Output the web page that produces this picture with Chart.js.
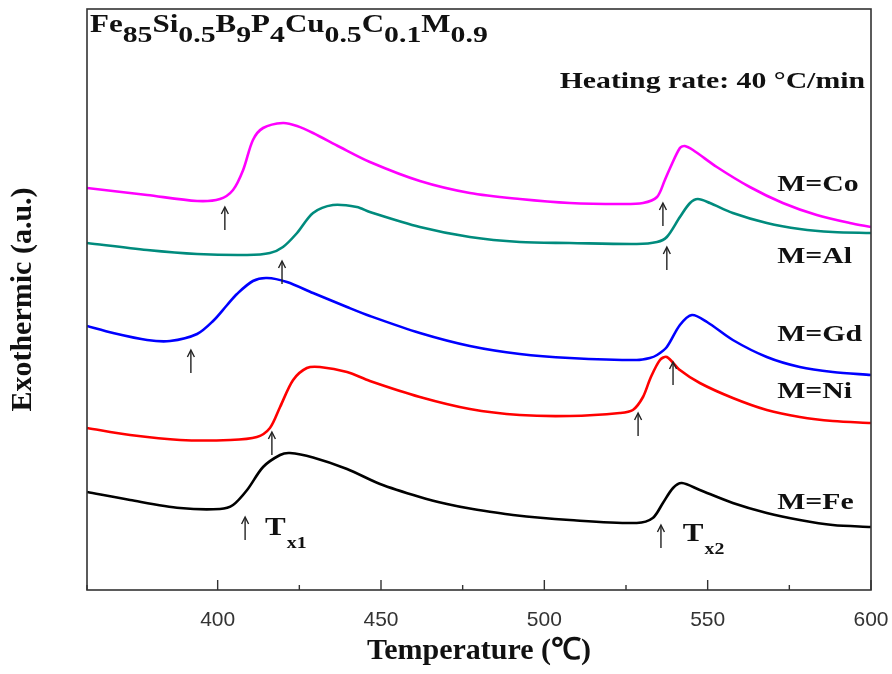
<!DOCTYPE html>
<html><head><meta charset="utf-8">
<script src="https://cdn.jsdelivr.net/npm/chart.js@4.4.0/dist/chart.umd.min.js"></script>
<style>html,body{margin:0;padding:0;background:#fff;}#wrap{width:892px;height:674px;}</style>
</head><body><div id="wrap"><canvas id="c" width="892" height="674"></canvas></div>
<script>
// ---- data (temperature in °C, signal in arbitrary units) ----
const seriesNames = ['M=Co','M=Al','M=Gd','M=Ni','M=Fe'];
const xTickValues = [400,450,500,550,600];

const coTemp = [360,378.4,393.7,400.7,404.7,407.8,410.8,413.9,420,424.3,429.2,437.4,446.6,461.9,477.2,492.5,507.8,523.1,530.2,534.5,536.9,538.5,541.5,543,545.5,552.8,562.9,573,583.4,593.5,600];
const coSignal = [402,395,389,391,400,420,450,462,467,464,457,443,428,409,397,391,387,386,387,393,410,422,442,444,440,423,403,387,375,367,363];

const alTemp = [360,378.4,393.7,409,416,420,424.3,429.2,435.3,442.6,446.6,461.9,477.2,492.5,507.8,528.3,534.5,537.5,541.5,544.6,547,550.7,557.7,568.1,578.2,588.3,600];
const alSignal = [347,340,336,335,337,343,357,377,385,383,378,363,353,348,347,346,348,353,373,387,391,387,377,367,361,358,357];

const gdTemp = [360,368,378.4,385.4,393.7,398.6,402.9,405.9,410.8,415.1,421.2,429.2,439.6,446.6,461.9,477.2,492.5,507.8,528.3,532.3,534.5,537.5,541.5,545.2,549.8,557.7,568.1,578.2,588.3,600];
const gdSignal = [264,257,250,249,256,269,285,296,309,312,308,297,283,274,257,244,236,232,230,232,235,243,265,275,268,250,233,223,218,215];

const niTemp = [360,373.2,388.5,403.8,412,416,419.1,423.1,427.3,431.3,439.6,446.6,461.9,477.2,492.5,507.8,523.1,527.1,530.2,532.5,535.4,537.5,541.5,547.6,557.7,568.1,578.2,588.3,600];
const niSignal = [162,155,150,150,153,162,183,210,222,223,218,209,193,181,175,174,177,180,193,212,230,233,220,207,192,180,173,169,167];

const feTemp = [360,373.2,388.5,400.7,404.7,409,413.9,419.1,422.1,429.2,439.6,449.7,461.9,470.2,477.2,490.4,507.8,528.3,533.2,536.3,539.4,542.1,547.6,557.7,568.1,578.2,588.3,600];
const feSignal = [98,90,82,81,85,100,123,135,137,132.5,121,106,93,86,81.5,75,70,67,72,87,102,107,100,87,77,70,65,63];

// crystallization onset temperatures (arrows) and the signal level at the arrow tip
const tx1 = [402.2,419.7,391.8,416.6,408.4];
const tx1Tip = [383,329,240,158,73];
const tx2 = [536.3,537.5,539.4,528.7,535.7];
const tx2Tip = [387,343,228,177,65];

// ---- styles / annotation placement ----
const colors = ['#ff00ff','#008b7d','#0000ff','#ff0000','#000000'];
const seriesTemps = [coTemp,alTemp,gdTemp,niTemp,feTemp];
const seriesSignals = [coSignal,alSignal,gdSignal,niSignal,feSignal];
const labelAnchor = {x:571.3, y:[405,333,255,198,87]};
const txLabelAnchor = [{x:414.5,y:55,sub:'x1'},{x:542.4,y:49,sub:'x2'}];
const SERIF = "'Liberation Serif','Times New Roman',serif";
const SX = 1.24;

const datasets = seriesNames.map((n,i)=>({
  label:n,
  data: seriesTemps[i].map((t,j)=>({x:t,y:seriesSignals[i][j]})),
  borderColor: colors[i],
  borderWidth: 2.6,
  pointRadius: 0,
  fill: false,
  tension: 0.3
}));

function sText(ctx, txt, x, y, font, align){
  ctx.save();
  ctx.font = font;
  const w = ctx.measureText(txt).width*SX;
  let x0 = x;
  if(align==='right') x0 = x - w;
  else if(align==='center') x0 = x - w/2;
  ctx.translate(x0,y);
  ctx.scale(SX,1);
  ctx.textAlign='left';
  ctx.fillText(txt,0,0);
  ctx.restore();
  return w;
}

const decor = {
  id:'decor',
  afterDatasetsDraw(chart){
    const {ctx, chartArea:a, scales:{x,y}} = chart;
    ctx.save();
    ctx.strokeStyle='#333'; ctx.lineWidth=1.6;
    ctx.strokeRect(a.left,a.top,a.right-a.left,a.bottom-a.top);
    ctx.lineWidth=1.4;
    x.ticks.forEach(t=>{
      const px = x.getPixelForValue(t.value);
      const len = (t.value%50===0)?10:5;
      ctx.beginPath(); ctx.moveTo(px,a.bottom); ctx.lineTo(px,a.bottom-len); ctx.stroke();
    });
    ctx.strokeStyle='#222'; ctx.lineWidth=1.4;
    const arrow=(t,v)=>{
      const px=x.getPixelForValue(t), py=y.getPixelForValue(v);
      ctx.beginPath(); ctx.moveTo(px,py+1); ctx.lineTo(px,py+23); ctx.stroke();
      ctx.beginPath(); ctx.moveTo(px-3.5,py+7); ctx.lineTo(px,py); ctx.lineTo(px+3.5,py+7); ctx.stroke();
    };
    tx1.forEach((t,i)=>arrow(t,tx1Tip[i]));
    tx2.forEach((t,i)=>arrow(t,tx2Tip[i]));
    ctx.fillStyle='#111'; ctx.textBaseline='alphabetic';
    const parts=[['Fe',0],['85',1],['Si',0],['0.5',1],['B',0],['9',1],['P',0],['4',1],['Cu',0],['0.5',1],['C',0],['0.1',1],['M',0],['0.9',1]];
    let cx=a.left+3;
    parts.forEach(([s,sub])=>{
      cx += sText(ctx,s,cx,a.top+(sub?33:23),'bold '+(sub?24:25)+'px '+SERIF,'left');
    });
    sText(ctx,'Heating rate: 40 °C/min',a.right-6,a.top+79,'bold 24px '+SERIF,'right');
    ctx.textBaseline='middle';
    seriesNames.forEach((n,i)=>{
      sText(ctx,n,x.getPixelForValue(labelAnchor.x),y.getPixelForValue(labelAnchor.y[i]),'bold 24px '+SERIF,'left');
    });
    ctx.textBaseline='alphabetic';
    txLabelAnchor.forEach(l=>{
      const px=x.getPixelForValue(l.x), py=y.getPixelForValue(l.y);
      const w=sText(ctx,'T',px,py,'bold 25px '+SERIF,'left');
      sText(ctx,l.sub,px+w+1,py+13,'bold 16px '+SERIF,'left');
    });
    ctx.restore();
  }
};

new Chart(document.getElementById('c'),{
  type:'line',
  data:{datasets},
  options:{
    responsive:false, animation:false, devicePixelRatio:1,
    layout:{padding:{left:0,right:21,top:9,bottom:0}},
    plugins:{legend:{display:false},tooltip:{enabled:false}},
    scales:{
      x:{type:'linear',min:360,max:600,position:'bottom',
        grid:{display:false}, border:{display:false},
        ticks:{stepSize:25,autoSkip:false,maxRotation:0,padding:10,color:'#333',
          font:{family:"'Liberation Sans',Arial,sans-serif",size:21},
          callback:(v)=> xTickValues.includes(v)? String(v):''},
        title:{display:true,text:'Temperature (℃)',color:'#111',
          font:{family:SERIF,size:30,weight:'bold'},padding:{top:4,bottom:5}},
        afterFit:(s)=>{s.height=84; s.paddingRight=0; s.paddingLeft=0;}
      },
      y:{min:0,max:581,grid:{display:false},border:{display:false},
        ticks:{display:false},
        title:{display:true,text:'Exothermic (a.u.)',color:'#111',
          font:{family:SERIF,size:30,weight:'bold'},padding:{top:5,bottom:4}},
        afterFit:(s)=>{s.width=87;}
      }
    }
  },
  plugins:[decor]
});
</script></body></html>
